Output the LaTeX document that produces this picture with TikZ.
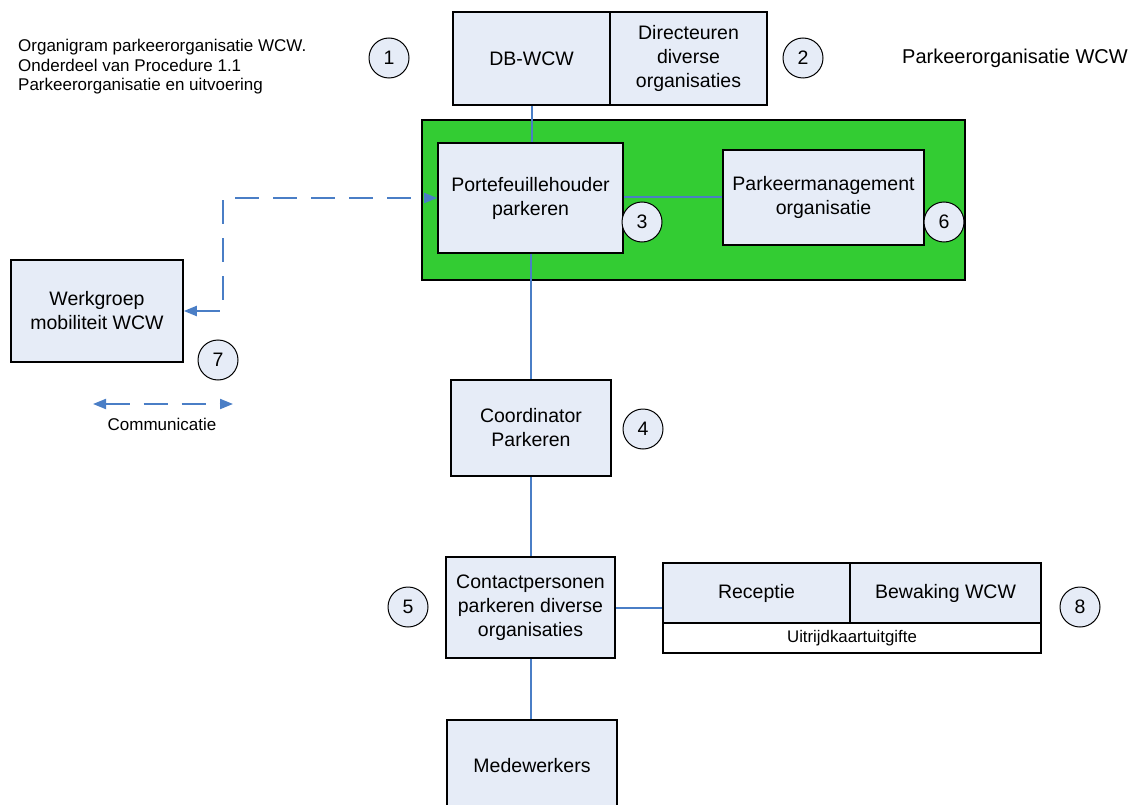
\documentclass[tikz,border=0pt]{standalone}
\usepackage{fontspec}
\setmainfont{Liberation Sans}
\usetikzlibrary{arrows.meta}
\definecolor{boxfill}{RGB}{230,236,247}
\definecolor{linkblue}{RGB}{74,126,198}
\definecolor{grn}{RGB}{51,204,51}
\begin{document}
\begin{tikzpicture}[x=1pt,y=-1pt,
  box/.style={draw, line width=1.6pt, fill=boxfill, inner sep=0pt, align=center, font=\fontsize{19.5}{24}\selectfont},
  num/.style={circle, draw, line width=1pt, fill=boxfill, minimum size=40pt, inner sep=0pt, font=\fontsize{19.5}{24}\selectfont},
  link/.style={draw=linkblue, line width=2pt},
  comm/.style={link, dash pattern=on 24pt off 14pt, {Triangle[length=13pt,width=10pt]}-{Triangle[length=13pt,width=10pt]}},
  plain/.style={inner sep=0pt, font=\fontsize{17}{19.5}\selectfont}]
\useasboundingbox (0,0) rectangle (1129,805);
\clip (0,0) rectangle (1129,805);

% green container
\draw[line width=1.6pt, fill=grn] (422,120) rectangle (965,280);

% title texts
\node[plain, anchor=west, align=left] (title) at (18,67) {Organigram parkeerorganisatie WCW.\\Onderdeel van Procedure 1.1\\Parkeerorganisatie en uitvoering};
\node[plain, anchor=west, font=\fontsize{20}{22}\selectfont] (rtitle) at (902,58) {Parkeerorganisatie WCW};

% boxes
\node[box, minimum width=157pt, minimum height=93pt] (db) at (531.5,58.5) {DB-WCW};
\node[box, minimum width=157pt, minimum height=93pt] (dir) at (688.5,58.5) {Directeuren\\diverse\\organisaties};
\node[box, minimum width=185pt, minimum height=110pt] (port) at (530.5,198) {Portefeuillehouder\\parkeren};
\node[box, minimum width=201pt, minimum height=95pt] (pm) at (823.5,197.5) {Parkeermanagement\\organisatie};
\node[box, minimum width=160pt, minimum height=96pt] (coord) at (531,428) {Coordinator\\Parkeren};
\node[box, minimum width=169pt, minimum height=101pt] (contact) at (530.5,607.5) {Contactpersonen\\parkeren diverse\\organisaties};
\node[box, minimum width=187pt, minimum height=60pt] (rec) at (756.5,593) {Receptie};
\node[box, minimum width=191pt, minimum height=60pt] (bew) at (945.5,593) {Bewaking WCW};
\node[box, fill=white, minimum width=378pt, minimum height=30pt, font=\fontsize{16.8}{19}\selectfont] (uit) at (852,638) {Uitrijdkaartuitgifte};
\node[box, minimum width=170pt, minimum height=92pt] (med) at (532,766) {Medewerkers};
\node[box, minimum width=172pt, minimum height=102pt] (werk) at (97,311) {Werkgroep\\mobiliteit WCW};

% number circles
\node[num] (n1) at (389,58) {1};
\node[num] (n2) at (803,58) {2};
\node[num] (n3) at (642,222) {3};
\node[num] (n6) at (944,222) {6};
\node[num] (n4) at (643,429) {4};
\node[num] (n5) at (408,607) {5};
\node[num] (n7) at (218,360) {7};
\node[num] (n8) at (1080,607) {8};

% connectors
\draw[link] (db.south) -- (db.south |- port.north);
\draw[link] (port.south) -- (port.south |- coord.north);
\draw[link] (coord.south) -- (coord.south |- contact.north);
\draw[link] (contact.south) -- (contact.south |- med.north);
\draw[link] (port.east |- pm.west) -- (pm.west);
\draw[link] (contact.east) -- (contact.east -| rec.west);

% communication (dashed)
\coordinate (bend) at (223,198);
\draw[comm] (werk.east) -| (bend) -- (port.west);

% legend
\coordinate (la) at (93,404);
\coordinate (lb) at (233,404);
\draw[comm] (la) -- (lb);
\node[plain] (legend) at (162,424) {Communicatie};
\end{tikzpicture}
\end{document}
